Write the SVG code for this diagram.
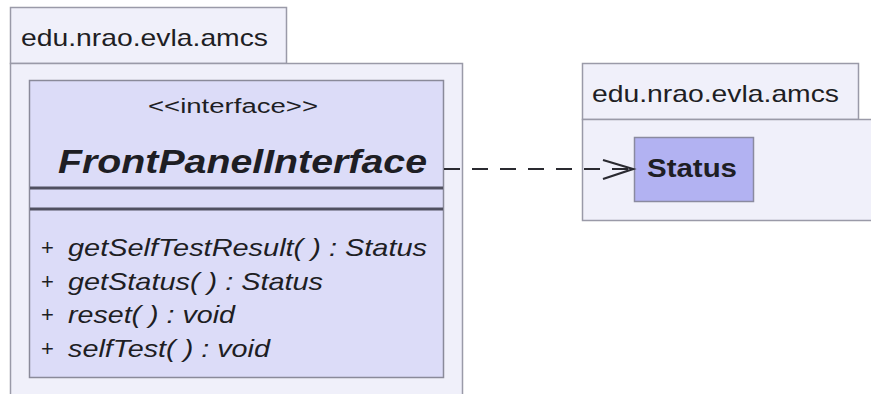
<svg xmlns="http://www.w3.org/2000/svg" width="871" height="394" viewBox="0 0 871 394">
<style>
.pkg{fill:#f0f0fa;stroke:#9a9aa8;stroke-width:1.5}
.cls{fill:#dcdcf8;stroke:#8a8a9a;stroke-width:1.5}
.sep{stroke:#505060;stroke-width:3}
.sta{fill:#b2b2f2;stroke:#8a8aa0;stroke-width:1.5}
text{font-family:"Liberation Sans",Arial,sans-serif;fill:#1e1e24}
.pk{font-size:24px}
.it{font-style:italic;font-size:24px}
.conn{stroke:#2a2a30;stroke-width:2.2;fill:none}
</style>
<rect width="871" height="394" fill="#ffffff"/>
<g id="pkg-left">
<rect class="pkg" x="10.5" y="7.5" width="276" height="56"/>
<rect class="pkg" x="10.5" y="63.5" width="452" height="345"/>
<text class="pk" x="21" y="46" textLength="247" lengthAdjust="spacingAndGlyphs">edu.nrao.evla.amcs</text>
</g>
<g id="FrontPanelInterface">
<rect class="cls" x="29.5" y="80.5" width="414" height="297"/>
<line class="sep" x1="30" y1="188" x2="443" y2="188"/>
<line class="sep" x1="30" y1="209" x2="443" y2="209"/>
<text x="148" y="113" font-size="20" textLength="170" lengthAdjust="spacingAndGlyphs">&lt;&lt;interface&gt;&gt;</text>
<text x="58" y="173" font-size="34" font-weight="bold" font-style="italic" textLength="369" lengthAdjust="spacingAndGlyphs">FrontPanelInterface</text>
<text x="41" y="255" font-size="22">+</text>
<text class="it" x="68" y="256" textLength="359" lengthAdjust="spacingAndGlyphs">getSelfTestResult( ) : Status</text>
<text x="41" y="289" font-size="22">+</text>
<text class="it" x="68" y="290" textLength="255" lengthAdjust="spacingAndGlyphs">getStatus( ) : Status</text>
<text x="41" y="322" font-size="22">+</text>
<text class="it" x="68" y="323" textLength="167" lengthAdjust="spacingAndGlyphs">reset( ) : void</text>
<text x="41" y="356" font-size="22">+</text>
<text class="it" x="68" y="357" textLength="202" lengthAdjust="spacingAndGlyphs">selfTest( ) : void</text>
</g>
<g id="pkg-right">
<rect class="pkg" x="582.5" y="63.5" width="276" height="56"/>
<rect class="pkg" x="582.5" y="119.5" width="300" height="101"/>
<text class="pk" x="592" y="102" textLength="247" lengthAdjust="spacingAndGlyphs">edu.nrao.evla.amcs</text>
</g>
<g id="Status">
<rect class="sta" x="634.5" y="137.5" width="119" height="64"/>
<text x="647" y="177" font-size="26" font-weight="bold" textLength="90" lengthAdjust="spacingAndGlyphs">Status</text>
</g>
<g id="connectors">
<line class="conn" x1="444" y1="169" x2="631" y2="169" stroke-dasharray="16 12"/>
<polyline class="conn" points="603,160 633,169 603,179"/>
</g>
</svg>
